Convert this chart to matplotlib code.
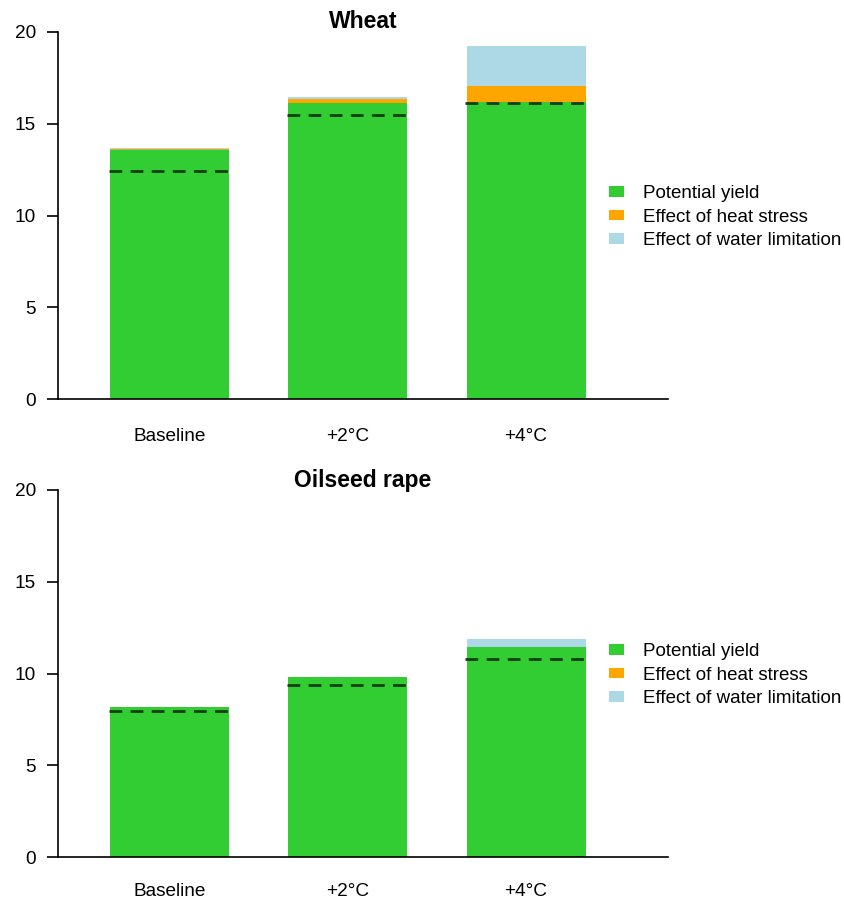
import matplotlib
matplotlib.use("Agg")
import matplotlib.pyplot as plt
from matplotlib.patches import Patch

plt.rcParams['font.family'] = ['Liberation Sans', 'DejaVu Sans']

scenarios = ["Baseline", "+2°C", "+4°C"]
series_names = ["Potential yield", "Effect of heat stress", "Effect of water limitation"]
colors = ["#32CD32", "#FFA500", "#ADD8E6"]

wheat_potential = [13.55, 16.15, 16.2]
wheat_heat = [0.05, 0.2, 0.85]
wheat_water = [0.1, 0.11, 2.18]
wheat_dashed = [12.45, 15.48, 16.12]

rape_potential = [8.17, 9.8, 11.44]
rape_heat = [0.0, 0.0, 0.0]
rape_water = [0.0, 0.03, 0.42]
rape_dashed = [7.95, 9.37, 10.79]

yticks = [0, 5, 10, 15, 20]

W, H = 844, 901
fig = plt.figure(figsize=(W / 100, H / 100), dpi=100)

def px_axes(left, top, right, bottom):
    return fig.add_axes([left / W, 1 - bottom / H, (right - left) / W, (bottom - top) / H])

panels = [
    ("Wheat", wheat_potential, wheat_heat, wheat_water, wheat_dashed, 32, 399, 21, 21),
    ("Oilseed rape", rape_potential, rape_heat, rape_water, rape_dashed, 490, 857, 480, 18.5),
]

centers = [0, 1.5, 3.0]
bw = 1.0
unit = 119.0
xl = centers[0] - (169.5 - 58) / unit
xr = centers[2] + (668 - 526) / unit

for title, pot, heat, water, dashed, ytop, ybot, ytitle, xpad in panels:
    ax = px_axes(58, ytop, 668, ybot)
    bottoms = [0.0] * 3
    for vals, c in zip([pot, heat, water], colors):
        ax.bar(centers, vals, width=bw, bottom=bottoms, color=c, edgecolor='none', zorder=2)
        bottoms = [b + v for b, v in zip(bottoms, vals)]
    for xc, d in zip(centers, dashed):
        ax.plot([xc - 0.51, xc + 0.51], [d, d], color="#143f14", lw=2.0,
                ls=(0, (4.6, 3.0)), zorder=3)
    ax.set_xlim(xl, xr)
    ax.set_ylim(0, 20)
    ax.set_yticks(yticks)
    ax.set_yticklabels([str(t) for t in yticks], fontsize=13.7)
    ax.set_xticks(centers)
    ax.set_xticklabels(scenarios, fontsize=13.7)
    ax.tick_params(axis='x', length=0, pad=xpad)
    ax.tick_params(axis='y', length=8, width=1.2, pad=8)
    for s in ['top', 'right']:
        ax.spines[s].set_visible(False)
    ax.spines['left'].set_linewidth(1.2)
    ax.spines['bottom'].set_linewidth(1.2)
    fig.text(363 / W, 1 - ytitle / H, title, ha='center', va='center',
             fontsize=16.5, fontweight='bold')
    handles = [Patch(facecolor=c, edgecolor='none') for c in colors]
    fig.legend(handles, series_names, loc='center left',
               bbox_to_anchor=(609 / W, 1 - (ytop + 185) / H), frameon=False,
               fontsize=13.5, handlelength=0.8, handleheight=0.5, handletextpad=1.0,
               labelspacing=0.35, borderaxespad=0, borderpad=0)

fig.savefig("out.png", dpi=100)
